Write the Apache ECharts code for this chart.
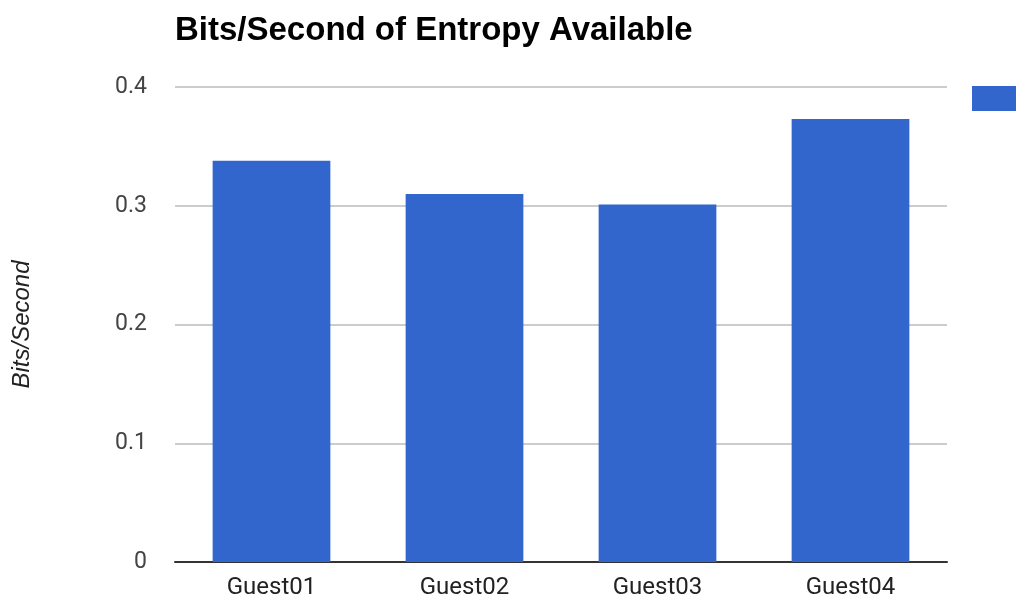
<!DOCTYPE html>
<html>
<head>
<meta charset="utf-8">
<script src="https://cdn.jsdelivr.net/npm/echarts@6/dist/echarts.min.js"></script>
<style>
  html, body { margin: 0; padding: 0; background: #fff; }
  #chart { width: 1016px; height: 605px; }
</style>
</head>
<body>
<div id="chart"></div>
<script>
// Entropy throughput per guest machine
const categories = ['Guest01', 'Guest02', 'Guest03', 'Guest04'];
const entropyRate = [0.338, 0.31, 0.301, 0.373];
const seriesName = 'Bits/Second';

const chart = echarts.init(document.getElementById('chart'));
chart.setOption({
  animation: false,
  backgroundColor: '#ffffff',
  title: {
    text: 'Bits/Second of Entropy Available',
    left: 170,
    top: 9,
    textStyle: {
      fontFamily: 'Liberation Sans, Arial, sans-serif',
      fontWeight: 'bold',
      fontSize: 33,
      color: '#000000'
    }
  },
  legend: {
    left: 967,
    top: 81,
    itemWidth: 50,
    itemHeight: 25,
    itemGap: 10,
    data: [{ name: seriesName, icon: 'rect' }],
    textStyle: { fontSize: 22, color: '#222' }
  },
  grid: {
    left: 175,
    right: 69,
    top: 87,
    bottom: 43,
    containLabel: false
  },
  xAxis: {
    type: 'category',
    data: categories,
    axisLine: { lineStyle: { color: '#333333', width: 2 } },
    axisTick: { show: false },
    axisLabel: {
      margin: 14,
      fontFamily: 'Roboto, Arial, sans-serif',
      fontSize: 24,
      color: '#222222'
    }
  },
  yAxis: {
    type: 'value',
    min: 0,
    max: 0.4,
    interval: 0.1,
    name: 'Bits/Second',
    nameLocation: 'middle',
    nameGap: 141,
    nameTextStyle: {
      fontFamily: 'Liberation Sans, Arial, sans-serif',
      fontStyle: 'italic',
      fontSize: 24,
      color: '#222222'
    },
    axisLine: { show: false },
    axisTick: { show: false },
    splitLine: { lineStyle: { color: '#cccccc', width: 2 } },
    axisLabel: {
      margin: 28,
      fontFamily: 'Roboto, Arial, sans-serif',
      fontSize: 23,
      color: '#444444'
    }
  },
  series: [{
    name: seriesName,
    type: 'bar',
    data: entropyRate,
    barCategoryGap: '39%',
    itemStyle: { color: '#3366cc' }
  }]
});
</script>
</body>
</html>
